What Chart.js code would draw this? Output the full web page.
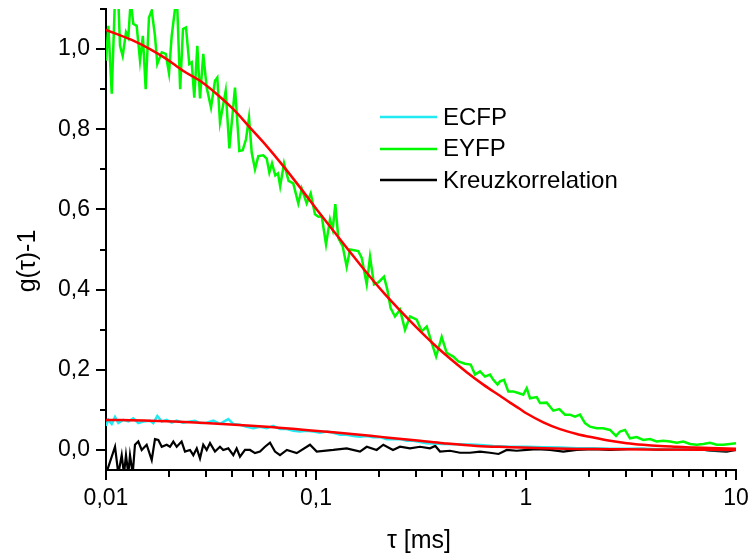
<!DOCTYPE html>
<html><head><meta charset="utf-8">
<script src="https://cdn.jsdelivr.net/npm/chart.js@4/dist/chart.umd.min.js"></script>
<style>html,body{margin:0;padding:0;background:#fff;}#wrap{width:748px;height:559px;}</style>
</head><body><div id="wrap"><canvas id="c" width="748" height="559"></canvas></div>
<script>
// ---- data ----
const tauEYFP = [0.0100,0.01026,0.01065,0.01104,0.01145,0.01166,0.01201,0.01245,0.01277,0.01311,0.01349,0.0140,0.01452,0.01498,0.01545,0.01602,0.01651,0.01711,0.01755,0.01843,0.01924,0.01995,0.02055,0.02131,0.02186,0.02255,0.02326,0.02404,0.02493,0.02559,0.02633,0.02722,0.02803,0.02905,0.03016,0.03162,0.03304,0.03389,0.0349,0.03715,0.03867,0.04114,0.04313,0.04477,0.04642,0.04797,0.04941,0.05123,0.05312,0.05612,0.05824,0.05995,0.06173,0.06401,0.06593,0.06751,0.07042,0.07403,0.07793,0.08236,0.08549,0.09029,0.09435,0.09891,0.1026,
0.1065,0.1116,0.1166,0.1201,0.1236,0.1277,0.134,0.140,0.1452,0.159,0.1651,0.1744,0.1808,0.1889,0.198,0.2108,0.2186,0.2266,0.2378,0.2512,0.2654,0.2803,0.3016,0.3186,0.3367,0.3556,0.3732,0.3968,0.4189,0.4507,0.476,0.5123,0.5454,0.5717,0.6039,0.638,0.6739,0.6988,0.7318,0.752,0.7857,0.8236,0.8687,0.919,0.9708,1.008,1.045,
1.125,1.166,1.255,1.349,1.442,1.534,1.620,1.711,1.808,1.909,2.017,2.171,2.326,2.512,2.683,2.803,2.961,3.128,3.367,3.615,3.895,4.189,4.507,4.850,5.220,5.612,6.039,6.501,6.988,7.520,8.094,8.687,9.363,10.0];
const gEYFP = [0.971,1.058,0.889,1.13,1.12,1.008,0.983,1.042,1.029,1.12,1.063,1.058,0.971,1.033,0.900,1.079,1.096,1.033,0.963,0.992,0.988,0.940,1.033,1.100,1.100,0.900,1.050,1.054,0.963,0.967,0.879,1.008,0.877,0.988,0.904,0.854,0.921,0.929,0.817,0.896,0.752,0.904,0.746,0.748,0.775,0.829,0.742,0.700,0.733,0.735,0.727,0.692,0.715,0.685,0.690,0.658,0.715,0.671,0.665,0.615,0.652,0.615,0.640,0.588,0.582,
0.583,0.513,0.575,0.550,0.613,0.529,0.508,0.457,0.500,0.496,0.479,0.413,0.482,0.413,0.418,0.432,0.400,0.354,0.333,0.350,0.300,0.333,0.325,0.296,0.308,0.267,0.233,0.282,0.242,0.233,0.221,0.215,0.213,0.188,0.196,0.183,0.188,0.175,0.163,0.171,0.175,0.146,0.146,0.142,0.138,0.154,0.129,
0.132,0.117,0.118,0.098,0.102,0.088,0.088,0.083,0.088,0.067,0.058,0.054,0.054,0.050,0.035,0.046,0.050,0.029,0.032,0.025,0.027,0.021,0.023,0.021,0.018,0.021,0.015,0.013,0.015,0.018,0.013,0.013,0.015,0.017];

const tauECFP = [0.0100,0.01026,0.01065,0.01104,0.01145,0.01209,0.01277,0.01349,0.01425,0.01506,0.0162,0.0168,0.01755,0.01843,0.01945,0.02055,0.02171,0.02326,0.02512,0.02654,0.02803,0.03016,0.03243,0.0349,0.03823,0.04038,0.04346,0.04678,0.05029,0.05412,0.05824,0.06262,0.06739,0.07268,0.07793,0.08391,0.09029,0.09708,
0.1045,0.1125,0.1209,0.1301,0.140,0.1506,0.162,0.1744,0.1873,0.2017,0.2171,0.2326,0.2512,0.2705,0.2905,0.3367,0.4038,0.485,0.5824,0.6988,0.8391,
1.008,1.209,1.452,1.744,2.092,2.512,3.016,3.615,4.346,5.220,6.262,7.520,9.029,10.0];
const gECFP = [0.060,0.075,0.065,0.082,0.067,0.075,0.071,0.079,0.067,0.071,0.073,0.067,0.085,0.071,0.075,0.068,0.073,0.068,0.071,0.073,0.067,0.068,0.073,0.065,0.077,0.065,0.063,0.058,0.054,0.058,0.054,0.060,0.052,0.052,0.048,0.046,0.048,0.046,
0.043,0.046,0.043,0.038,0.038,0.035,0.033,0.035,0.032,0.032,0.027,0.027,0.027,0.023,0.023,0.017,0.015,0.014,0.013,0.010,0.008,
0.008,0.007,0.006,0.004,0.004,0.003,0.003,0.003,0.002,0.002,0.002,0.000,0.000,0.001];

const tauKreuz = [0.0100,0.01104,0.01145,0.01188,0.01218,0.01245,0.01277,0.01301,0.0134,0.01374,0.01425,0.01479,0.01562,0.01651,0.01711,0.01775,0.01843,0.01945,0.02017,0.02092,0.02171,0.02291,0.02378,0.02512,0.02605,0.02705,0.02803,0.02905,0.03016,0.03128,0.03304,0.0349,0.03615,0.03823,0.04038,0.04189,0.04346,0.04591,0.0485,0.05123,0.05412,0.05717,0.06039,0.0638,0.06739,0.07268,0.07661,0.08094,0.09363,
0.1008,0.1209,0.140,0.162,0.1744,0.1945,0.2092,0.2326,0.2512,0.2803,0.3128,0.349,0.3698,0.3895,0.4346,0.485,0.5412,0.6039,0.6739,0.7403,0.8094,0.9029,
1.008,1.125,1.301,1.506,1.744,2.092,2.512,3.016,3.615,4.346,5.220,6.262,7.520,9.029,10.0];
const gKreuz = [-0.06,0.008,-0.06,-0.013,-0.06,-0.013,-0.06,-0.013,-0.06,0.013,0.021,0.000,0.013,-0.025,0.027,0.025,0.008,0.013,0.008,0.021,0.008,0.021,-0.004,0.000,-0.013,0.004,-0.021,0.013,0.000,0.017,-0.004,0.008,0.000,0.004,-0.013,0.004,-0.017,0.000,0.000,-0.008,-0.004,0.008,0.018,-0.004,-0.013,0.000,-0.004,-0.008,0.013,
-0.004,0.000,0.004,-0.004,0.008,0.000,0.013,0.000,0.008,0.004,0.008,0.004,0.010,-0.004,-0.002,-0.007,-0.007,-0.004,-0.007,-0.010,0.000,-0.002,
0.000,0.002,0.000,-0.004,0.000,0.002,0.000,0.002,0.003,0.000,0.002,0.004,-0.002,-0.004,0.000];

const tauFitEYFP = [0.0100,0.01349,0.0162,0.01945,0.02326,0.02803,0.03367,0.04038,0.0485,0.05824,0.06988,0.08391,0.1008,0.1209,0.1452,0.1744,0.2092,0.2512,0.3016,0.3615,0.4346,0.5220,0.6262,0.752,0.8391,0.9363,1.008,1.209,1.452,1.744,2.092,2.512,3.016,3.615,4.346,5.220,6.262,7.520,10.0];
const gFitEYFP = [1.048,1.021,1.000,0.975,0.946,0.921,0.888,0.850,0.804,0.758,0.708,0.655,0.600,0.547,0.494,0.442,0.393,0.348,0.305,0.265,0.228,0.194,0.163,0.135,0.118,0.102,0.091,0.069,0.052,0.040,0.031,0.023,0.017,0.013,0.010,0.008,0.006,0.005,0.003];

const tauFitECFP = [0.0100,0.0162,0.02803,0.05824,0.08391,0.1209,0.2092,0.3128,0.4038,0.5824,0.8391,1.209,1.744,2.512,3.615,10.0];
const gFitECFP = [0.075,0.073,0.068,0.058,0.051,0.044,0.032,0.023,0.017,0.010,0.007,0.004,0.0025,0.002,0.001,0.000];

const xTickLabels = ['0,01','0,1','1','10'];
const xMajorTicks = [0.01,0.1,1,10];
const xMinorFactors = [2,3,4,5,6,7,8,9];
const yTickLabels = ['0,0','0,2','0,4','0,6','0,8','1,0'];
const yMajorTicks = [0,0.2,0.4,0.6,0.8,1.0];
const yMinorTicks = [0.1,0.3,0.5,0.7,0.9,1.1];
const xTitle = 'τ [ms]';
const yTitle = 'g(τ)-1';
const seriesNames = ['ECFP','EYFP','Kreuzkorrelation'];

// ---- chart ----
const FONT = "'Liberation Sans', Arial, sans-serif";
function pts(t, g){ return t.map((x,i)=>({x:x, y:g[i]})); }

const deco = {
  id:'deco',
  afterDraw(chart){
    const ctx = chart.ctx, xs = chart.scales.x, ys = chart.scales.y, a = chart.chartArea;
    ctx.save();
    ctx.strokeStyle = '#000'; ctx.lineWidth = 2; ctx.lineCap = 'butt';
    ctx.beginPath();
    yMajorTicks.forEach(v=>{ const p = Math.round(ys.getPixelForValue(v)); ctx.moveTo(a.left-10,p); ctx.lineTo(a.left,p); });
    yMinorTicks.forEach(v=>{ const p = Math.round(ys.getPixelForValue(v)); ctx.moveTo(a.left-6,p); ctx.lineTo(a.left,p); });
    xMajorTicks.forEach(v=>{ const p = Math.round(xs.getPixelForValue(v)); ctx.moveTo(p,a.bottom); ctx.lineTo(p,a.bottom+10); });
    xMajorTicks.slice(0,3).forEach(d=>{ xMinorFactors.forEach(f=>{ const p = Math.round(xs.getPixelForValue(d*f)); ctx.moveTo(p,a.bottom); ctx.lineTo(p,a.bottom+7); }); });
    ctx.stroke();
    // axis titles
    ctx.fillStyle = '#000'; ctx.font = '25px ' + FONT; ctx.textAlign = 'center'; ctx.textBaseline = 'middle';
    ctx.fillText(xTitle, (a.left + a.right) / 2 - 2, 541);
    ctx.save(); ctx.translate(28, 261); ctx.rotate(-Math.PI/2); ctx.fillText(yTitle, 0, 0); ctx.restore();
    // legend
    ctx.font = '24px ' + FONT; ctx.textAlign = 'left';
    chart.data.datasets.slice(0,3).forEach((ds,i)=>{
      const y = 117 + i*31.5;
      ctx.strokeStyle = ds.borderColor; ctx.lineWidth = 2.5;
      ctx.beginPath(); ctx.moveTo(380, Math.round(y)); ctx.lineTo(437, Math.round(y)); ctx.stroke();
      ctx.fillStyle = '#000'; ctx.fillText(ds.label, 443, y + 1);
    });
    ctx.restore();
  }
};

new Chart(document.getElementById('c'), {
  type: 'line',
  data: {
    datasets: [
      { label: seriesNames[0], data: pts(tauECFP, gECFP), borderColor: '#22EAF2', borderWidth: 2.5, pointRadius: 0, tension: 0, order: 2 },
      { label: seriesNames[1], data: pts(tauEYFP, gEYFP), borderColor: '#00F800', borderWidth: 2.5, pointRadius: 0, tension: 0, order: 3 },
      { label: seriesNames[2], data: pts(tauKreuz, gKreuz), borderColor: '#000000', borderWidth: 2.2, pointRadius: 0, tension: 0, order: 4 },
      { label: 'Fit EYFP', data: pts(tauFitEYFP, gFitEYFP), borderColor: '#FF0000', borderWidth: 2.5, pointRadius: 0, cubicInterpolationMode: 'monotone', order: 0 },
      { label: 'Fit ECFP', data: pts(tauFitECFP, gFitECFP), borderColor: '#FF0000', borderWidth: 2.5, pointRadius: 0, cubicInterpolationMode: 'monotone', order: 1 }
    ]
  },
  options: {
    responsive: false, animation: false, devicePixelRatio: 1,
    layout: { padding: { top: 9, right: 12, left: 0, bottom: 0 } },
    plugins: { legend: { display: false }, tooltip: { enabled: false } },
    scales: {
      x: {
        type: 'logarithmic', min: 0.01, max: 10,
        border: { display: true, color: '#000', width: 2 },
        grid: { drawOnChartArea: false, drawTicks: true, tickLength: 10, color: 'rgba(0,0,0,0)', tickColor: 'rgba(0,0,0,0)' },
        afterBuildTicks: (s) => { s.ticks = xMajorTicks.map(v => ({ value: v })); },
        ticks: { autoSkip: false, maxRotation: 0, minRotation: 0, padding: 5, color: '#000', font: { family: FONT, size: 23 },
          callback: (v) => { const l = Math.log10(v); const k = Math.round(l); return Math.abs(l - k) < 1e-6 ? (xTickLabels[k + 2] ?? '') : ''; } },
        afterFit: (s) => { s.height = 89; s.paddingLeft = 0; s.paddingRight = 0; }
      },
      y: {
        type: 'linear', min: -0.05, max: 1.1,
        border: { display: true, color: '#000', width: 2 },
        grid: { drawOnChartArea: false, drawTicks: true, tickLength: 10, color: 'rgba(0,0,0,0)', tickColor: 'rgba(0,0,0,0)' },
        afterBuildTicks: (s) => { s.ticks = yMajorTicks.map(v => ({ value: v })); },
        ticks: { autoSkip: false, padding: 6, color: '#000', font: { family: FONT, size: 23 },
          callback: (v) => { const k = Math.round(v * 5); return (Math.abs(v * 5 - k) < 1e-6 && k >= 0 && k <= 5) ? yTickLabels[k] : ''; } },
        afterFit: (s) => { s.width = 106; s.paddingTop = 0; s.paddingBottom = 0; }
      }
    }
  },
  plugins: [deco]
});
</script></body></html>
